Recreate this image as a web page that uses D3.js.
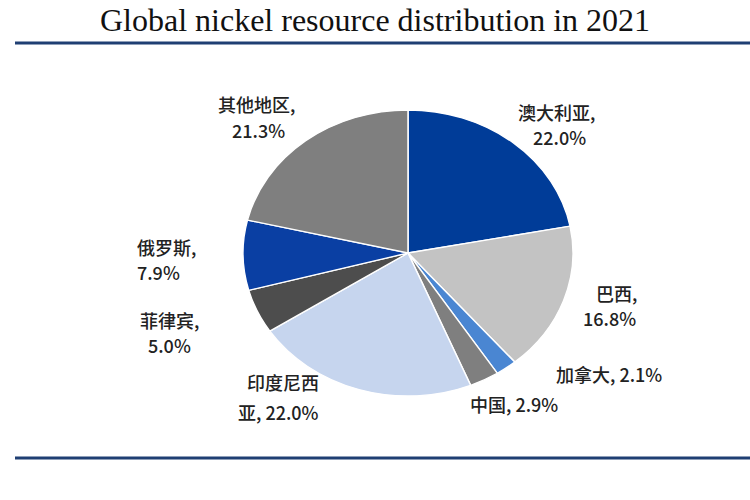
<!DOCTYPE html>
<html><head><meta charset="utf-8">
<script src="https://cdn.jsdelivr.net/npm/d3@7"></script>
<style>body{margin:0;background:#fff}</style></head>
<body><svg id="c" width="750" height="500"></svg>
<script>
const categories = ["澳大利亚","巴西","加拿大","中国","印度尼西亚","菲律宾","俄罗斯","其他地区"];
const values = [22.0,16.8,2.1,2.9,22.0,5.0,7.9,21.3];
const colors = ["#003c98","#c3c3c3","#4a86d2","#7f7f7f","#c6d5ee","#4d4d4d","#0a3fa3","#7f7f7f"];
const labels = [
 {lines:["澳大利亚,","22.0%"], x:[518,533], y:[120,145]},
 {lines:["巴西,","16.8%"], x:[596,583], y:[301,326]},
 {lines:["加拿大, 2.1%"], x:[556], y:[382]},
 {lines:["中国, 2.9%"], x:[470], y:[412]},
 {lines:["印度尼西","亚, 22.0%"], x:[247,238], y:[390,420]},
 {lines:["菲律宾,","5.0%"], x:[140,148], y:[328,353]},
 {lines:["俄罗斯,","7.9%"], x:[137,137], y:[255,280]},
 {lines:["其他地区,","21.3%"], x:[218,232], y:[112,138]}
];
const svg = d3.select("#c");
svg.append("text").attr("x",375).attr("y",31).attr("text-anchor","middle")
 .attr("font-family","Liberation Serif, serif").attr("font-size",32).attr("fill","#111")
 .text("Global nickel resource distribution in 2021");
svg.append("line").attr("x1",15).attr("x2",750).attr("y1",43).attr("y2",43).attr("stroke","#1f3f73").attr("stroke-width",3);
svg.append("line").attr("x1",15).attr("x2",750).attr("y1",458).attr("y2",458).attr("stroke","#1f3f73").attr("stroke-width",3);
const rx=165, ry=143;
const g = svg.append("g").attr("transform",`translate(408,253) scale(1,${ry/rx})`);
const pie = d3.pie().sort(null).value(d=>d)(values);
const arc = d3.arc().innerRadius(0).outerRadius(rx);
g.selectAll("path").data(pie).join("path").attr("d",arc)
 .attr("fill",(d,i)=>colors[i]).attr("stroke","#fff").attr("stroke-width",1.5);
labels.forEach(l=>{
 l.lines.forEach((t,j)=>{
  svg.append("text").attr("x",l.x[j]).attr("y",l.y[j])
   .attr("font-family","Noto Sans CJK SC, sans-serif").attr("font-size",18).attr("font-weight",500).attr("fill","#222").text(t);
 });
});
</script></body></html>
